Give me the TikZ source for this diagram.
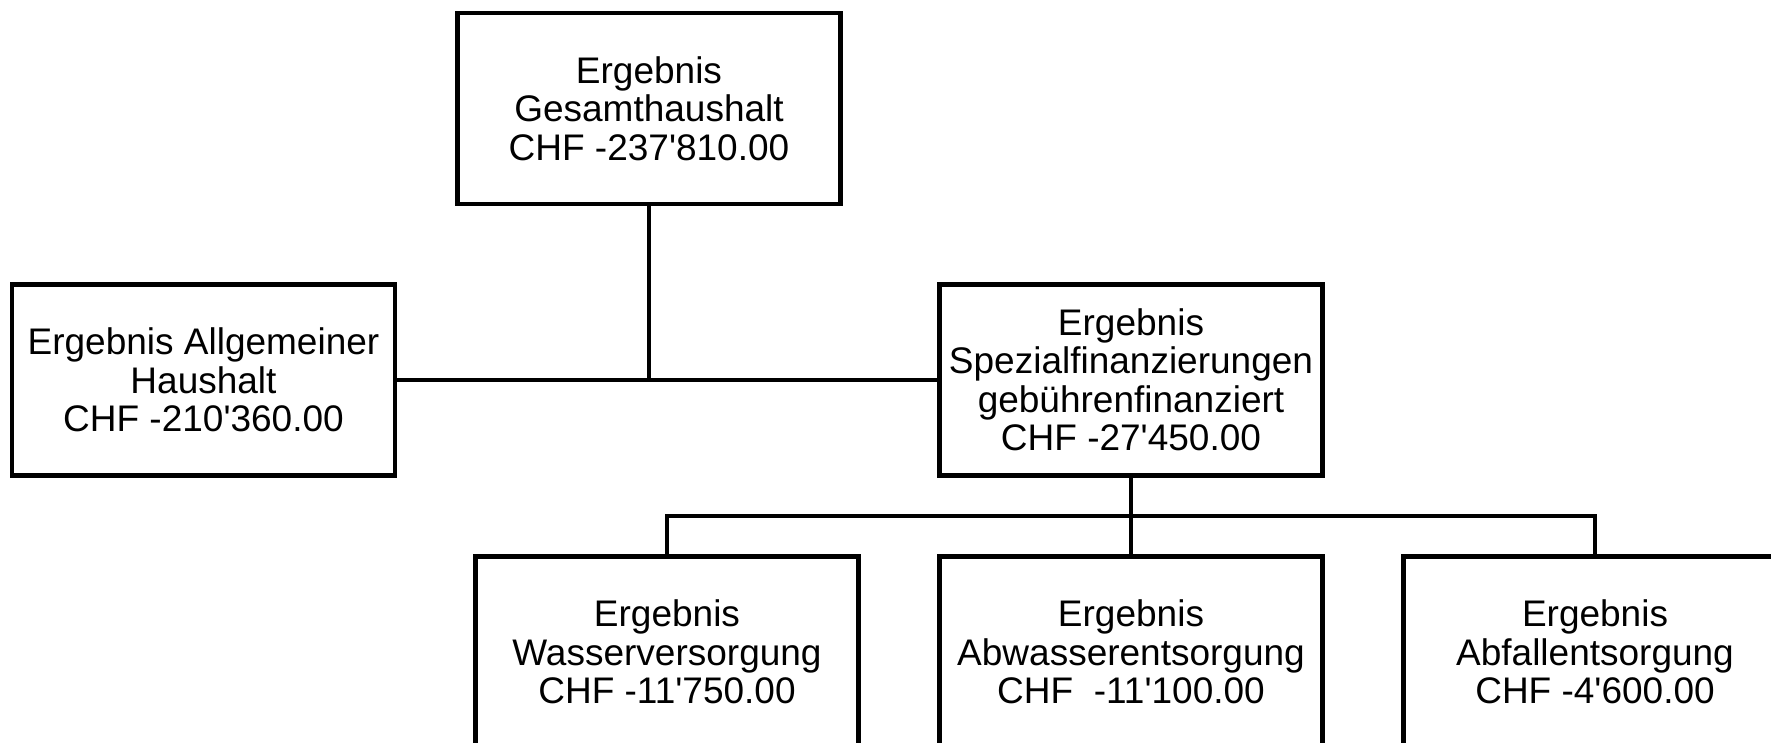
\documentclass[tikz,border=0pt]{standalone}
\usepackage{fontspec}
\setmainfont{Liberation Sans}[Ligatures=TeXOff]
\begin{document}
\begin{tikzpicture}[x=1pt,y=-1pt,
  box/.style={draw, line width=4.5pt, rectangle, minimum width=383pt, minimum height=191pt,
    align=center, inner sep=0pt, font=\fontsize{37}{38.5}\selectfont},
  conn/.style={line width=4.8pt, line join=miter}]
\useasboundingbox (0,0) rectangle (1771,743);
\node[box] (top) at (649,108.5) {Ergebnis\\Gesamthaushalt\\CHF -237'810.00};
\node[box] (left) at (203.5,380) {Ergebnis Allgemeiner\\Haushalt\\CHF -210'360.00};
\node[box] (mid) at (1131,380) {Ergebnis\\Spezialfinanzierungen\\geb\"uhrenfinanziert\\CHF -27'450.00};
\node[box] (b1) at (667,652) {Ergebnis\\Wasserversorgung\\CHF -11'750.00};
\node[box] (b2) at (1131,652) {Ergebnis\\Abwasserentsorgung\\CHF\ \ -11'100.00};
\node[box] (b3) at (1595,652) {Ergebnis\\Abfallentsorgung\\CHF -4'600.00};
\coordinate (j1) at (top.south |- left.east);
\coordinate (bus) at (1131,516);
\draw[conn] (top.south) -- (j1);
\draw[conn] (left.east) -- (mid.west);
\draw[conn] (mid.south) -- (b2.north);
\draw[conn] (b1.north) |- (bus) -| (b3.north);
\end{tikzpicture}
\end{document}
